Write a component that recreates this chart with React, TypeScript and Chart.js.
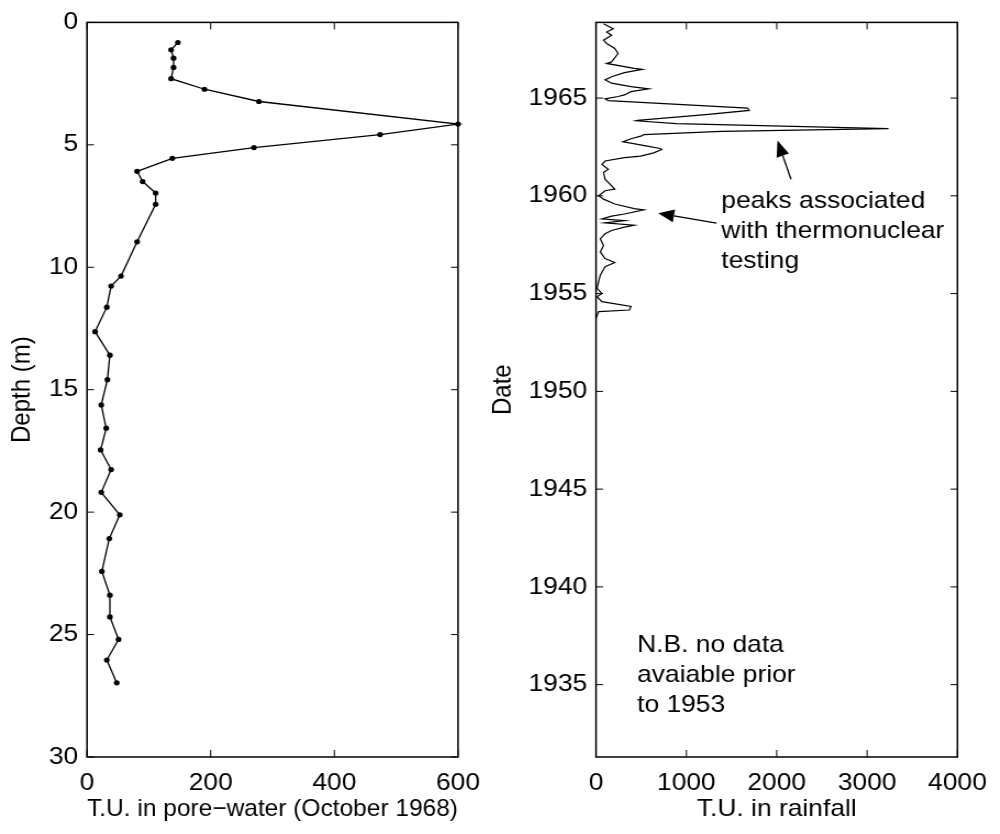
import React, { useEffect, useRef } from "react";
import { Chart, registerables } from "chart.js";

Chart.register(...registerables);

// ---------- data ----------
const DEPTH_M = [
  0.82, 1.12, 1.46, 1.84, 2.3, 2.73, 3.23, 4.15, 4.58, 5.11, 5.55, 6.08, 6.5, 6.97, 7.43,
  8.96, 10.36, 10.77, 11.63, 12.63, 13.59, 14.59, 15.62, 16.57, 17.46, 18.26, 19.19, 20.11,
  21.08, 22.42, 23.39, 24.28, 25.2, 26.04, 26.97,
];
const PORE_TU = [
  147, 136, 140, 140, 136, 190, 278, 600, 474, 270, 138, 81, 90, 111, 111,
  81, 55, 39, 32, 13, 37, 33, 23, 31, 22, 39, 23, 53,
  36, 24, 37, 37, 51, 32, 48,
];

const RAIN_DATE = [
  1968.8, 1968.55, 1968.38, 1968.21, 1967.96, 1967.79, 1967.54, 1967.28, 1966.85, 1966.77,
  1966.52, 1966.47, 1966.3, 1966.09, 1965.93, 1965.76, 1965.59, 1965.47, 1965.33, 1965.16,
  1965.08, 1964.96, 1964.87, 1964.49, 1964.37, 1964.15, 1963.86, 1963.84, 1963.69, 1963.44,
  1963.3, 1963.13, 1963.05, 1962.92, 1962.76, 1962.68, 1962.54, 1962.42, 1962.37, 1962.2,
  1962.03, 1961.95, 1961.78, 1961.61, 1961.36, 1961.19, 1960.85, 1960.34, 1960.26, 1960.0,
  1959.83, 1959.58, 1959.35, 1959.28, 1959.07, 1958.96, 1958.82, 1958.73, 1958.62, 1958.5,
  1958.4, 1958.23, 1958.06, 1957.8, 1957.46, 1957.13, 1956.79, 1956.59, 1956.37, 1955.94,
  1955.61, 1955.27, 1955.01, 1954.84, 1954.59, 1954.34, 1954.16, 1954.08, 1953.74,
];
const RAIN_TU = [
  83, 190, 118, 172, 83, 118, 208, 244, 172, 118,
  423, 513, 315, 172, 100, 172, 387, 584, 387, 315,
  244, 100, 136, 1677, 1695, 1212, 459, 441, 889, 3237,
  1390, 530, 495, 387, 297, 400, 566, 710, 728, 638,
  495, 315, 100, 65, 136, 83, 100, 208, 100, 29,
  83, 208, 423, 530, 315, 172, 65, 315, 100, 423,
  315, 172, 100, 47, 83, 47, 100, 208, 100, 47,
  29, 11, 65, 11, 65, 387, 369, 29, 0,
];

const DEPTH_TICKS = [0, 5, 10, 15, 20, 25, 30];
const PORE_TICKS = [0, 200, 400, 600];
const DATE_TICKS = [1935, 1940, 1945, 1950, 1955, 1960, 1965];
const RAIN_TICKS = [0, 1000, 2000, 3000, 4000];
const DATE_MIN = 1931.3;
const DATE_MAX = 1968.87;

const NOTE_PEAKS = ["peaks associated", "with thermonuclear", "testing"];
const NOTE_PEAKS_AT = [1387, 1959.38]; // [T.U., date] of first baseline
const NOTE_NB = ["N.B. no data", "avaiable prior", "to 1953"];
const NOTE_NB_AT = [455, 1936.65];
// [tailTU, tailDate, tipTU, tipDate]
const ARROWS = [
  [2158, 1960.85, 2008, 1962.83],
  [1333, 1958.6, 688, 1959.11],
];

// ---------- styling / layout ----------
const FONT = "'Liberation Sans', Arial, Helvetica, sans-serif";
const FS = 24;
const H = 834;
const PLOT_TOP = 17;
const PLOT_BOTTOM = 757;

const L_CSS_W = 500;
const L_W = 455;
const L_SX = L_CSS_W / L_W;
const L_PLOT_LEFT = 87 / L_SX;
const L_PLOT_RIGHT = 458 / L_SX;

const R_CSS_LEFT = 470;
const R_CSS_W = 530;
const R_W = 482;
const R_SX = R_CSS_W / R_W;
const R_PLOT_LEFT = (596 - R_CSS_LEFT) / R_SX;
const R_PLOT_RIGHT = (968 - R_CSS_LEFT) / R_SX;

function makeFrame(sx: number) {
  return {
    id: "frame",
    afterDatasetsDraw(chart: any) {
      const { ctx, chartArea: a, scales } = chart;
      const xs = scales.x;
      const ys = scales.y;
      const tl = 7;
      const tlx = 7 / sx;
      ctx.save();
      ctx.strokeStyle = "#000";
      ctx.lineWidth = 1;
      ctx.beginPath();
      xs.ticks.forEach((t: any) => {
        const p = xs.getPixelForValue(t.value);
        ctx.moveTo(p, a.bottom);
        ctx.lineTo(p, a.bottom - tl);
        ctx.moveTo(p, a.top);
        ctx.lineTo(p, a.top + tl);
      });
      ys.ticks.forEach((t: any) => {
        const p = ys.getPixelForValue(t.value);
        ctx.moveTo(a.left, p);
        ctx.lineTo(a.left + tlx, p);
        ctx.moveTo(a.right, p);
        ctx.lineTo(a.right - tlx, p);
      });
      ctx.stroke();
      ctx.lineWidth = 1.5;
      ctx.strokeRect(a.left, a.top, a.right - a.left, a.bottom - a.top);
      ctx.restore();
    },
  };
}

function makeNotes(sx: number) {
  return {
    id: "notes",
    afterDraw(chart: any) {
      const { ctx, scales } = chart;
      const xs = scales.x;
      const ys = scales.y;
      ctx.save();
      ctx.fillStyle = "#000";
      ctx.strokeStyle = "#000";
      ctx.font = `${FS}px ${FONT}`;
      ctx.textAlign = "left";
      ctx.textBaseline = "alphabetic";
      const drawLines = (lines: string[], at: number[]) => {
        const x = xs.getPixelForValue(at[0]);
        const y = ys.getPixelForValue(at[1]);
        lines.forEach((s, i) => ctx.fillText(s, x, y + i * 30));
      };
      drawLines(NOTE_PEAKS, NOTE_PEAKS_AT);
      drawLines(NOTE_NB, NOTE_NB_AT);
      ARROWS.forEach(([tx, ty, px, py]) => {
        const T = [xs.getPixelForValue(tx) * sx, ys.getPixelForValue(ty)];
        const P = [xs.getPixelForValue(px) * sx, ys.getPixelForValue(py)];
        const dx = P[0] - T[0];
        const dy = P[1] - T[1];
        const len = Math.hypot(dx, dy);
        const ux = dx / len;
        const uy = dy / len;
        const hl = 16;
        const hw = 6.5;
        const bx = P[0] - ux * hl;
        const by = P[1] - uy * hl;
        ctx.lineWidth = 1.3;
        ctx.beginPath();
        ctx.moveTo(T[0] / sx, T[1]);
        ctx.lineTo(bx / sx, by);
        ctx.stroke();
        ctx.beginPath();
        ctx.moveTo(P[0] / sx, P[1]);
        ctx.lineTo((bx - uy * hw) / sx, by + ux * hw);
        ctx.lineTo((bx + uy * hw) / sx, by - ux * hw);
        ctx.closePath();
        ctx.fill();
      });
      ctx.restore();
    },
  };
}

const tickFont = { family: FONT, size: FS };
const plain = (v: any) => String(v);

function baseScale(extra: any) {
  return {
    type: "linear",
    grid: { display: false, drawTicks: false },
    border: { display: false },
    ...extra,
  };
}

export default function App() {
  const lRef = useRef<HTMLCanvasElement>(null);
  const rRef = useRef<HTMLCanvasElement>(null);

  useEffect(() => {
    const left = new Chart(lRef.current as HTMLCanvasElement, {
      type: "scatter",
      data: {
        datasets: [
          {
            data: DEPTH_M.map((d, i) => ({ x: PORE_TU[i], y: d })),
            showLine: true,
            borderColor: "#000",
            borderWidth: 1.3,
            pointRadius: 2.6,
            pointBackgroundColor: "#000",
            pointBorderWidth: 0,
            clip: false,
          } as any,
        ],
      },
      options: {
        animation: false,
        responsive: false,
        events: [],
        layout: { padding: { top: PLOT_TOP, right: L_W - L_PLOT_RIGHT, left: 0, bottom: 0 } },
        plugins: { legend: { display: false }, tooltip: { enabled: false } },
        scales: {
          x: baseScale({
            position: "bottom",
            min: 0,
            max: 600,
            afterBuildTicks: (s: any) => {
              s.ticks = PORE_TICKS.map((v) => ({ value: v }));
            },
            afterFit: (s: any) => {
              s.height = H - PLOT_BOTTOM;
            },
            ticks: { font: tickFont, color: "#000", autoSkip: false, maxRotation: 0, padding: 12, callback: plain },
            title: {
              display: true,
              text: "T.U. in pore\u2212water (October 1968)",
              font: tickFont,
              color: "#000",
              padding: { top: 0, bottom: 10 },
            },
          }),
          y: baseScale({
            position: "left",
            reverse: true,
            min: 0,
            max: 30,
            afterBuildTicks: (s: any) => {
              s.ticks = DEPTH_TICKS.map((v) => ({ value: v }));
            },
            afterFit: (s: any) => {
              s.width = L_PLOT_LEFT;
            },
            ticks: { font: tickFont, color: "#000", autoSkip: false, padding: 8, callback: plain },
            title: {
              display: true,
              text: "Depth (m)",
              font: tickFont,
              color: "#000",
              padding: { top: 6, bottom: 0 },
            },
          }),
        },
      } as any,
      plugins: [makeFrame(L_SX)],
    });

    const right = new Chart(rRef.current as HTMLCanvasElement, {
      type: "scatter",
      data: {
        datasets: [
          {
            data: RAIN_DATE.map((d, i) => ({ x: RAIN_TU[i], y: d })),
            showLine: true,
            borderColor: "#000",
            borderWidth: 1.2,
            pointRadius: 0,
            clip: false,
          } as any,
        ],
      },
      options: {
        animation: false,
        responsive: false,
        events: [],
        layout: { padding: { top: PLOT_TOP, right: R_W - R_PLOT_RIGHT, left: 0, bottom: 0 } },
        plugins: { legend: { display: false }, tooltip: { enabled: false } },
        scales: {
          x: baseScale({
            position: "bottom",
            min: 0,
            max: 4000,
            afterBuildTicks: (s: any) => {
              s.ticks = RAIN_TICKS.map((v) => ({ value: v }));
            },
            afterFit: (s: any) => {
              s.height = H - PLOT_BOTTOM;
            },
            ticks: { font: tickFont, color: "#000", autoSkip: false, maxRotation: 0, padding: 12, callback: plain },
            title: {
              display: true,
              text: "T.U. in rainfall",
              font: tickFont,
              color: "#000",
              padding: { top: 0, bottom: 10 },
            },
          }),
          y: baseScale({
            position: "left",
            min: DATE_MIN,
            max: DATE_MAX,
            afterBuildTicks: (s: any) => {
              s.ticks = DATE_TICKS.map((v) => ({ value: v }));
            },
            afterFit: (s: any) => {
              s.width = R_PLOT_LEFT;
            },
            ticks: { font: tickFont, color: "#000", autoSkip: false, padding: 8, callback: plain },
            title: {
              display: true,
              text: "Date",
              font: tickFont,
              color: "#000",
              padding: { top: 16, bottom: 0 },
            },
          }),
        },
      } as any,
      plugins: [makeFrame(R_SX), makeNotes(R_SX)],
    });

    return () => {
      left.destroy();
      right.destroy();
    };
  }, []);

  return (
    <div style={{ position: "absolute", left: 0, top: 0, width: 1000, height: H, background: "#fff" }}>
      <canvas
        ref={lRef}
        width={L_W}
        height={H}
        style={{ position: "absolute", left: 0, top: 0, width: `${L_CSS_W}px`, height: `${H}px` }}
      />
      <canvas
        ref={rRef}
        width={R_W}
        height={H}
        style={{ position: "absolute", left: `${R_CSS_LEFT}px`, top: 0, width: `${R_CSS_W}px`, height: `${H}px` }}
      />
    </div>
  );
}
